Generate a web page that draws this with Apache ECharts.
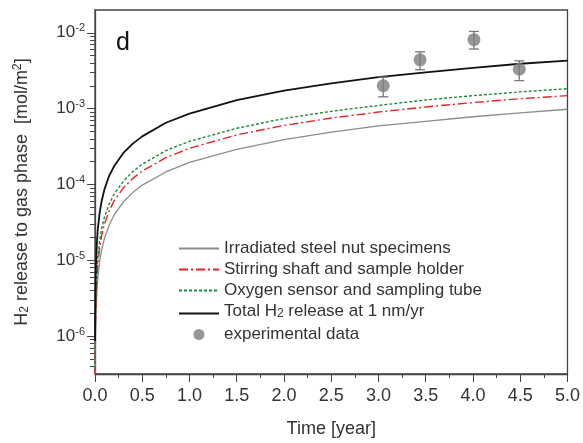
<!DOCTYPE html>
<html>
<head>
    <meta charset="utf-8">
    <title>H2 release</title>
    <script type="text/javascript" src="https://cdn.jsdelivr.net/npm/echarts@6/dist/echarts.min.js"></script>
    <style>
        body { margin: 0; background: #fff; }
    </style>
</head>
<body>

<div id="main" style="width: 583px;height:443px;"></div>
<script type="text/javascript">
    // time [year]
    var years = [0.001, 0.002, 0.005, 0.01, 0.02, 0.03, 0.05, 0.07, 0.1, 0.15, 0.2, 0.3, 0.4, 0.5, 0.75, 1, 1.5, 2, 2.5, 3, 3.5, 4, 4.5, 5];
    // H2 release [mol/m2]
    var nutSpecimens = [1.95e-7, 3.9e-7, 9.8e-7, 1.95e-6, 3.9e-6, 5.9e-6, 9.8e-6, 1.37e-5, 1.95e-5, 2.9e-5, 3.9e-5, 5.9e-5, 7.8e-5, 9.8e-5, 1.46e-4, 1.95e-4, 2.9e-4, 3.9e-4, 4.9e-4, 5.9e-4, 6.8e-4, 7.8e-4, 8.8e-4, 9.8e-4];
    var stirringShaft = [3.0e-7, 6.0e-7, 1.5e-6, 3.0e-6, 6.0e-6, 9.0e-6, 1.5e-5, 2.1e-5, 3.0e-5, 4.5e-5, 6.0e-5, 9.0e-5, 1.2e-4, 1.5e-4, 2.25e-4, 3.0e-4, 4.5e-4, 6.0e-4, 7.5e-4, 9.0e-4, 1.05e-3, 1.2e-3, 1.35e-3, 1.48e-3];
    var oxygenSensor = [3.7e-7, 7.4e-7, 1.85e-6, 3.7e-6, 7.4e-6, 1.1e-5, 1.85e-5, 2.6e-5, 3.7e-5, 5.5e-5, 7.4e-5, 1.1e-4, 1.48e-4, 1.85e-4, 2.8e-4, 3.7e-4, 5.5e-4, 7.4e-4, 9.2e-4, 1.1e-3, 1.3e-3, 1.48e-3, 1.66e-3, 1.83e-3];
    var totalRelease = [8.6e-7, 1.7e-6, 4.3e-6, 8.6e-6, 1.7e-5, 2.6e-5, 4.3e-5, 6.0e-5, 8.6e-5, 1.3e-4, 1.72e-4, 2.6e-4, 3.45e-4, 4.3e-4, 6.5e-4, 8.6e-4, 1.29e-3, 1.72e-3, 2.15e-3, 2.6e-3, 3.0e-3, 3.45e-3, 3.9e-3, 4.3e-3];

    // experimental data with error bars
    var expYears = [3.05, 3.44, 4.01, 4.49];
    var expValues = [2.0e-3, 4.4e-3, 8.1e-3, 3.3e-3];
    var expLow = [1.43e-3, 3.25e-3, 6.1e-3, 2.34e-3];
    var expHigh = [2.6e-3, 5.6e-3, 1.04e-2, 4.26e-3];

    // y tick labels (decades) and minor ticks
    var yDecades = [-6, -5, -4, -3, -2];
    var yMinor = [];
    for (var n = -7; n <= -2; n++) {
        for (var k = 2; k <= 9; k++) {
            yMinor.push(Math.log10(k) + n);
        }
    }

    var font = 'Liberation Sans, Arial, sans-serif';
    var textColor = '#333';
    var frameColor = '#444';

    function pairs(xs, ys) {
        return xs.map(function (x, i) { return [x, Math.log10(ys[i])]; });
    }

    // legend entries for lines: hide the dot that echarts puts on line icons
    var noDot = { color: 'rgba(0,0,0,0)', borderWidth: 0, opacity: 0 };

    var myChart = echarts.init(document.getElementById('main'));

    var option = {
        animation: false,
        textStyle: { fontFamily: font },
        grid: {
            left: 95, right: 14, top: 10, bottom: 60,
            show: true, borderColor: frameColor, borderWidth: 1.3
        },
        graphic: [{
            type: 'text', left: 116, top: 31,
            style: { text: 'd', fontSize: 25, fill: '#111', font: '25px ' + font }
        }],
        legend: {
            orient: 'vertical',
            left: 173, top: 235,
            itemWidth: 40, itemHeight: 11, itemGap: 4,
            textStyle: {
                fontSize: 17, color: textColor, lineHeight: 17,
                rich: {
                    a: { fontSize: 17, color: textColor, padding: [0, 0, 4, 0] },
                    sub: { fontSize: 12, color: textColor }
                }
            },
            formatter: function (name) {
                if (name.indexOf('Total') === 0) {
                    return '{a|Total H}{sub|2}{a| release at 1 nm/yr}';
                }
                return name;
            },
            data: [
                { name: 'Irradiated steel nut specimens', itemStyle: noDot },
                { name: 'Stirring shaft and sample holder', itemStyle: noDot },
                { name: 'Oxygen sensor and sampling tube', itemStyle: noDot },
                { name: 'Total H2 release at 1 nm/yr', itemStyle: noDot },
                'experimental data'
            ]
        },
        xAxis: {
            type: 'value',
            min: 0, max: 5, interval: 0.5,
            name: 'Time [year]',
            nameLocation: 'middle', nameGap: 46,
            nameTextStyle: { fontSize: 18, color: textColor },
            axisLine: { lineStyle: { color: frameColor, width: 1.3 } },
            axisTick: { inside: false, length: 8, lineStyle: { color: frameColor } },
            minorTick: { show: true, splitNumber: 2, length: 4, lineStyle: { color: frameColor } },
            axisLabel: {
                fontSize: 18, color: textColor, margin: 13,
                formatter: function (v) { return v.toFixed(1); }
            },
            splitLine: { show: false }
        },
        yAxis: [{
            type: 'value',
            min: -6.5, max: -1.7,
            name: '{a|H}{sub|2}{a| release to gas phase  [mol/m}{sup|2}{a|]}',
            nameLocation: 'middle', nameGap: 58,
            nameTextStyle: {
                fontSize: 18, color: textColor,
                rich: {
                    a: { fontSize: 18, color: textColor, padding: [0, 0, 4, 0] },
                    sub: { fontSize: 12, color: textColor },
                    sup: { fontSize: 12, color: textColor, padding: [0, 0, 13, 0] }
                }
            },
            axisLine: { lineStyle: { color: frameColor, width: 1.3 } },
            axisTick: { length: 8, customValues: yDecades, lineStyle: { color: frameColor } },
            axisLabel: {
                customValues: yDecades, margin: 10,
                formatter: function (v) { return '{b|10}{s|' + Math.round(v) + '}'; },
                rich: {
                    b: { fontSize: 17, color: textColor },
                    s: { fontSize: 11, color: textColor, padding: [0, 0, 9, 0] }
                }
            },
            splitLine: { show: false }
        }, {
            // minor log ticks
            type: 'value',
            position: 'left',
            min: -6.5, max: -1.7,
            axisLine: { show: false },
            axisTick: { length: 5, customValues: yMinor, lineStyle: { color: frameColor } },
            axisLabel: { show: false },
            splitLine: { show: false }
        }],
        series: [{
            name: 'Irradiated steel nut specimens',
            type: 'line', symbol: 'none', z: 2,
            lineStyle: { color: '#8c8c8c', width: 1.3 },
            itemStyle: { color: '#8c8c8c' },
            data: pairs(years, nutSpecimens)
        }, {
            name: 'Stirring shaft and sample holder',
            type: 'line', symbol: 'none', z: 3,
            lineStyle: { color: '#e8232b', width: 1.4, type: [9, 3, 2, 3] },
            itemStyle: { color: '#e8232b' },
            data: pairs(years, stirringShaft)
        }, {
            name: 'Oxygen sensor and sampling tube',
            type: 'line', symbol: 'none', z: 3,
            lineStyle: { color: '#1e8a3c', width: 1.4, type: [3, 2] },
            itemStyle: { color: '#1e8a3c' },
            data: pairs(years, oxygenSensor)
        }, {
            name: 'Total H2 release at 1 nm/yr',
            type: 'line', symbol: 'none', z: 4,
            lineStyle: { color: '#111', width: 1.8 },
            itemStyle: { color: '#111' },
            data: pairs(years, totalRelease)
        }, {
            name: 'error bars',
            type: 'custom', z: 5,
            renderItem: function (params, api) {
                var x = api.value(0);
                var top = api.coord([x, api.value(2)]);
                var bot = api.coord([x, api.value(1)]);
                var w = 5;
                var st = { stroke: '#777', lineWidth: 1.3 };
                return {
                    type: 'group',
                    children: [
                        { type: 'line', shape: { x1: top[0], y1: top[1], x2: bot[0], y2: bot[1] }, style: st },
                        { type: 'line', shape: { x1: top[0] - w, y1: top[1], x2: top[0] + w, y2: top[1] }, style: st },
                        { type: 'line', shape: { x1: bot[0] - w, y1: bot[1], x2: bot[0] + w, y2: bot[1] }, style: st }
                    ]
                };
            },
            data: expYears.map(function (x, i) {
                return [x, Math.log10(expLow[i]), Math.log10(expHigh[i])];
            })
        }, {
            name: 'experimental data',
            type: 'scatter', z: 6,
            symbol: 'circle', symbolSize: 13,
            itemStyle: { color: '#7d7d7d' },
            data: pairs(expYears, expValues)
        }]
    };

    myChart.setOption(option);
</script>

</body>
</html>
